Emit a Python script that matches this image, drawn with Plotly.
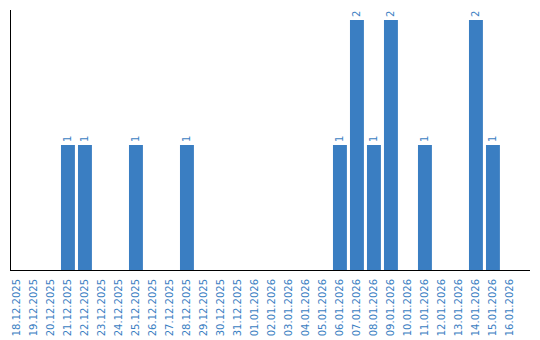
import plotly.graph_objects as go

dates = ["18.12.2025", "19.12.2025", "20.12.2025", "21.12.2025", "22.12.2025",
         "23.12.2025", "24.12.2025", "25.12.2025", "26.12.2025", "27.12.2025",
         "28.12.2025", "29.12.2025", "30.12.2025", "31.12.2025", "01.01.2026",
         "02.01.2026", "03.01.2026", "04.01.2026", "05.01.2026", "06.01.2026",
         "07.01.2026", "08.01.2026", "09.01.2026", "10.01.2026", "11.01.2026",
         "12.01.2026", "13.01.2026", "14.01.2026", "15.01.2026", "16.01.2026"]
counts = [0, 0, 0, 1, 1, 0, 0, 1, 0, 0, 1, 0, 0, 0, 0,
          0, 0, 0, 0, 1, 2, 1, 2, 0, 1, 0, 0, 2, 1, 0]

color = "#3a7ec2"
labels = [str(v) if v > 0 else "" for v in counts]

fig = go.Figure(go.Bar(
    x=dates, y=counts, marker=dict(color=color, line=dict(width=0)),
    text=labels, textposition="outside", textangle=-90,
    textfont=dict(family="DejaVu Sans", size=10, color=color),
    cliponaxis=False, width=0.82,
))
fig.update_layout(
    width=540, height=340, margin=dict(l=11, r=10, t=10, b=70),
    paper_bgcolor="white", plot_bgcolor="white", showlegend=False,
    font=dict(family="DejaVu Sans", size=10, color=color),
    xaxis=dict(type="category", range=[-0.35, 30.18], tickangle=-90,
               showline=True, linecolor="black", linewidth=1, showgrid=False,
               ticks="", ticklabelstandoff=4, automargin=False,
               tickfont=dict(size=10, color=color)),
    yaxis=dict(range=[0, 2.08], showline=True, linecolor="black", linewidth=1,
               showgrid=False, showticklabels=False, ticks="", zeroline=False,
               automargin=False),
    uniformtext=dict(minsize=10, mode="show"),
)
fig.write_html("out.html")
